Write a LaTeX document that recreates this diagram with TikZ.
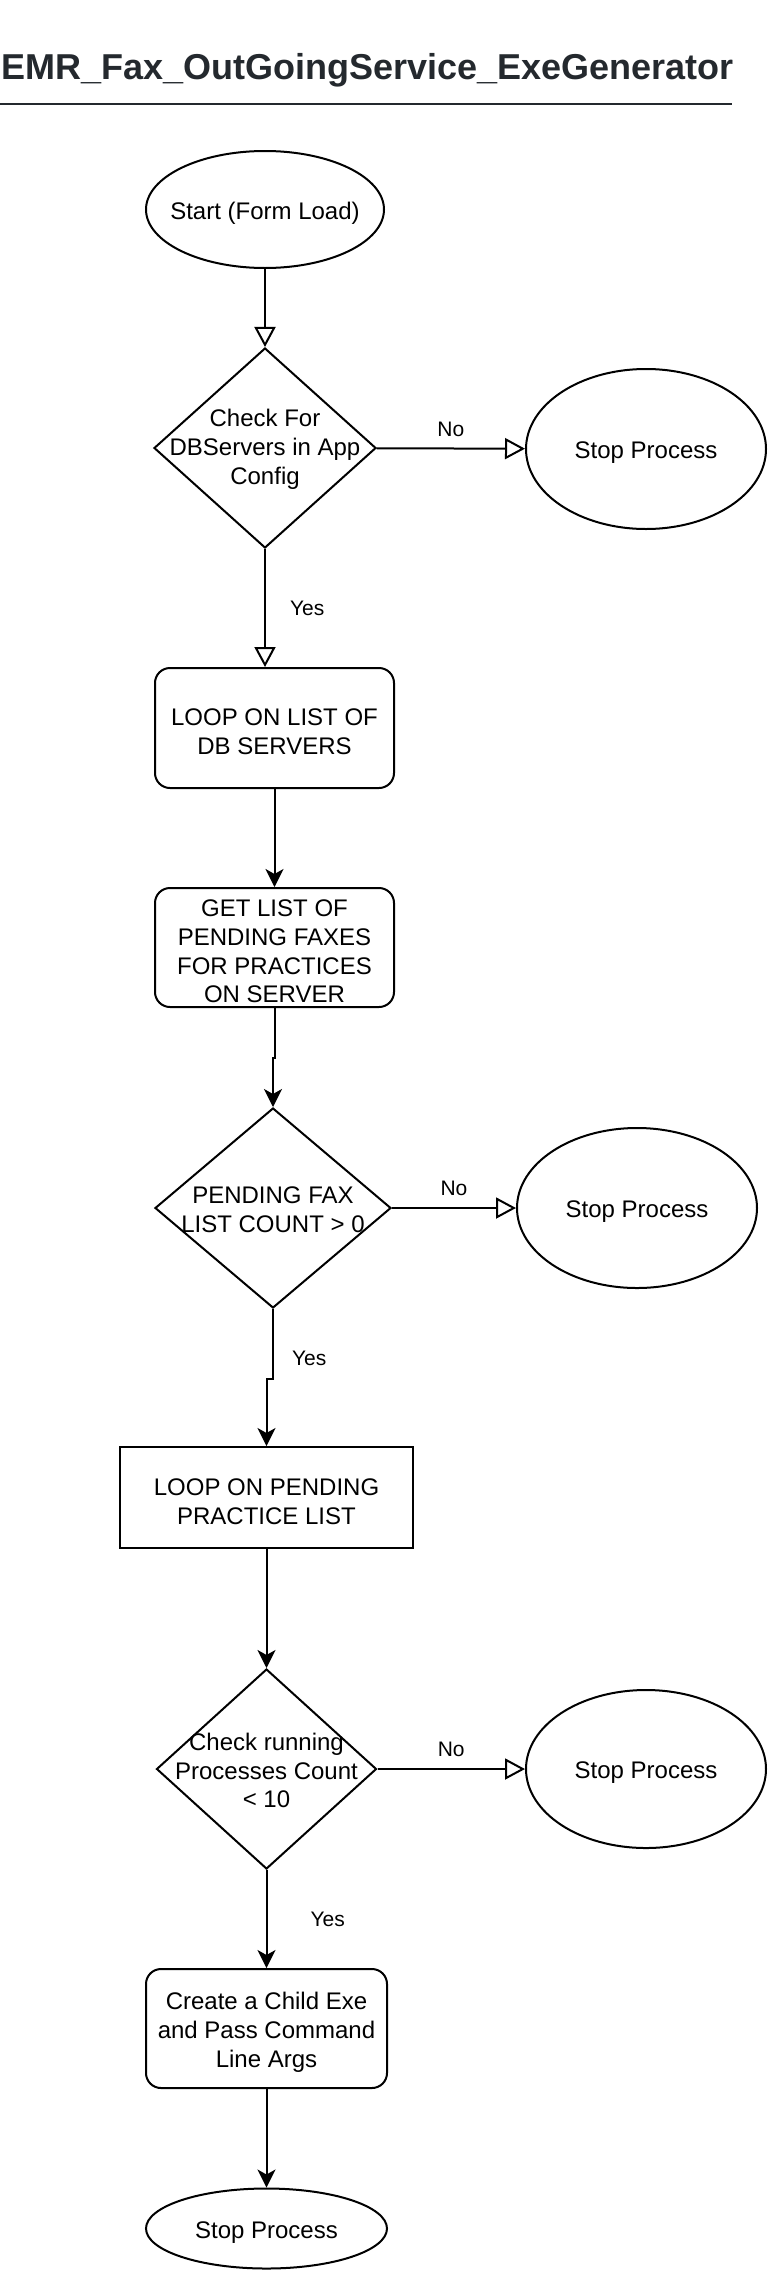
\documentclass[tikz,border=0pt]{standalone}
\usepackage{fontspec}
\setmainfont{Liberation Sans}
\usepackage{xcolor}
\usepackage{tikz}
\usetikzlibrary{positioning, arrows.meta, shapes.geometric}
\definecolor{titlegray}{HTML}{24292E}

\begin{document}
\begin{tikzpicture}[
    x=1pt, y=-1pt,
    txt/.style={font=\fontsize{24}{28.8}\selectfont, align=center, yshift=-4pt},
    dtxt/.style={font=\fontsize{24}{28.8}\selectfont, align=center, yshift=-1.5pt},
    lbl/.style={font=\fontsize{21}{25}\selectfont, inner sep=0pt},
    term/.style={draw, ellipse, line width=2pt, inner sep=0pt},
    decision/.style={draw, diamond, line width=2pt, inner sep=0pt},
    proc/.style={draw, rectangle, rounded corners=15pt, line width=2pt, inner sep=0pt},
    procsq/.style={draw, rectangle, line width=2pt, inner sep=0pt},
    openarr/.style={line width=2pt, -{Triangle[open, length=20pt, width=21pt]}},
    arr/.style={line width=2pt, -{Stealth[length=18pt, width=18pt, inset=5pt]}},
]
\useasboundingbox (0,0) rectangle (768,2272);

\node[anchor=west, inner sep=0pt, text=titlegray, font=\fontsize{36}{40}\selectfont\bfseries] (title) at (1,70) {EMR\_Fax\_OutGoingService\_ExeGenerator};
\coordinate (rulel) at (0,104);
\coordinate (ruler) at (732,104);
\draw[titlegray, line width=2pt] (rulel) -- (ruler);

\node[term, minimum width=238pt, minimum height=117pt, label={[txt]center:Start (Form Load)}] (start) at (265,209.5) {};
\node[decision, minimum width=222pt, minimum height=200pt, label={[dtxt]center:Check For\\DBServers in App\\Config}] (d1) at (265,448) {};
\node[term, minimum width=240pt, minimum height=160pt, label={[txt]center:Stop Process}] (stop1) at (646,449) {};
\node[proc, minimum width=239pt, minimum height=120pt, label={[txt]center:LOOP ON LIST OF\\DB SERVERS}] (loop1) at (274.5,728) {};
\node[proc, minimum width=239pt, minimum height=119pt, label={[txt]center:GET LIST OF\\PENDING FAXES\\FOR PRACTICES\\ON SERVER}] (fetch) at (274.5,947.5) {};
\node[decision, minimum width=236pt, minimum height=200pt, label={[dtxt]center:PENDING FAX\\LIST COUNT > 0}] (chk2) at (273,1208) {};
\node[term, minimum width=240pt, minimum height=160pt, label={[txt]center:Stop Process}] (stop2) at (637,1208) {};
\node[procsq, minimum width=293pt, minimum height=101pt, label={[txt]center:LOOP ON PENDING\\PRACTICE LIST}] (loopP) at (266.5,1497.5) {};
\node[decision, minimum width=220pt, minimum height=200pt, label={[dtxt]center:Check running\\Processes Count\\< 10}] (chk3) at (266.5,1769) {};
\node[term, minimum width=240pt, minimum height=158pt, label={[txt]center:Stop Process}] (stop3) at (646,1769) {};
\node[proc, minimum width=241pt, minimum height=119pt, label={[txt]center:Create a Child Exe\\and Pass Command\\Line Args}] (spawn) at (266.5,2028.5) {};
\node[term, minimum width=241pt, minimum height=80pt, label={[txt]center:Stop Process}] (stop4) at (266.5,2228.5) {};

\draw[openarr] (start) -- (d1);
\draw[openarr] (d1) -- node[lbl, above=11pt] {No} (stop1);
\draw[openarr] (d1.south) -- node[lbl, right=24pt] {Yes} (d1.south |- loop1.north);
\draw[arr] (loop1) -- (fetch);
\draw[arr] (fetch.south) -- ++(0,50) -| (chk2.north);
\draw[openarr] (chk2) -- node[lbl, above=11pt] {No} (stop2);
\draw[arr] (chk2.south) -- node[lbl, pos=0.7, right=18pt] {Yes} ++(0,70) -| (loopP.north);
\draw[arr] (loopP) -- (chk3);
\draw[openarr] (chk3) -- node[lbl, above=11pt] {No} (stop3);
\draw[arr] (chk3) -- node[lbl, right=43pt] {Yes} (spawn);
\draw[arr] (spawn) -- (stop4);
\end{tikzpicture}
\end{document}
